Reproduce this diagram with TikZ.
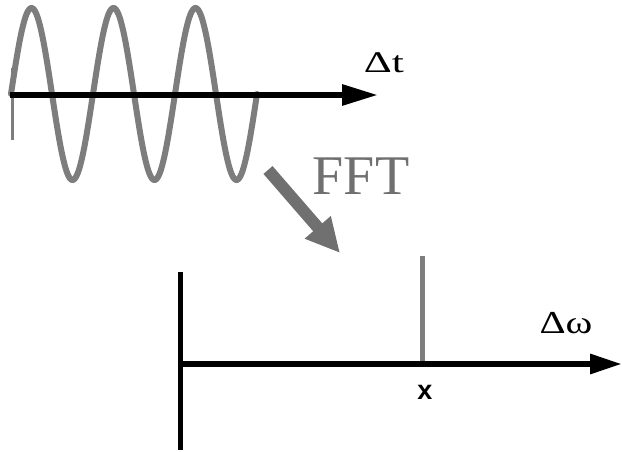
\documentclass[tikz,border=0pt]{standalone}
\usepackage{fontspec}
\usepackage{graphicx}
\setmainfont{Liberation Serif}
\newfontfamily\labsans{Liberation Sans}
\usetikzlibrary{arrows.meta}
\definecolor{wavegray}{RGB}{125,125,125}
\definecolor{fftgray}{RGB}{112,112,112}
\begin{document}
\begin{tikzpicture}[x=1pt,y=-1pt,
  axisline/.style={line width=6pt,black},
  axistip/.style={-{Triangle[length=36pt,width=20pt]}},
  wave/.style={line width=6pt,wavegray,line cap=round},
  lbl/.style={inner sep=0pt},
  ]
\useasboundingbox (0,0) rectangle (622,452);
% top plot
\coordinate (tstart) at (10,95);
\coordinate (tend) at (378,95);
\draw[wavegray,line width=3pt] (12,68) -- (12,140);
\draw[wave] plot[domain=11:257,samples=240] (\x,{94-86*sin(4.3902*(\x-11))});
\draw[axisline,axistip] (tstart) -- (tend);
\node[lbl,font=\fontsize{30}{32}\selectfont] (dt) at (384,63) {\scalebox{1.45}[1]{Δt}};
% FFT arrow
\node[inner sep=0pt,text=fftgray,font=\fontsize{56}{58}\selectfont] (fft) at (361,176) {FFT};
\coordinate (fa) at (268,170);
\coordinate (fb) at (340,253);
\draw[fftgray,line width=12pt,-{Triangle[length=34pt,width=32pt]}] (fa) -- (fb);
% bottom plot
\coordinate (vtop) at (180,272);
\coordinate (vbot) at (180,450);
\coordinate (hstart) at (178,364);
\coordinate (hend) at (622,364);
\coordinate (stop) at (422,256);
\coordinate (sbot) at (422,364);
\draw[line width=5pt,black] (vtop) -- (vbot);
\draw[line width=5pt,wavegray] (stop) -- (sbot);
\draw[line width=6pt,black,-{Triangle[length=32pt,width=19pt]}] (hstart) -- (hend);
\node[lbl,font=\fontsize{32}{34}\selectfont] (dw) at (566,323) {\scalebox{1.27}[1]{Δω}};
\node[inner sep=0pt,font=\labsans\bfseries\fontsize{27}{29}\selectfont] (xl) at (425,392) {x};
\end{tikzpicture}
\end{document}
